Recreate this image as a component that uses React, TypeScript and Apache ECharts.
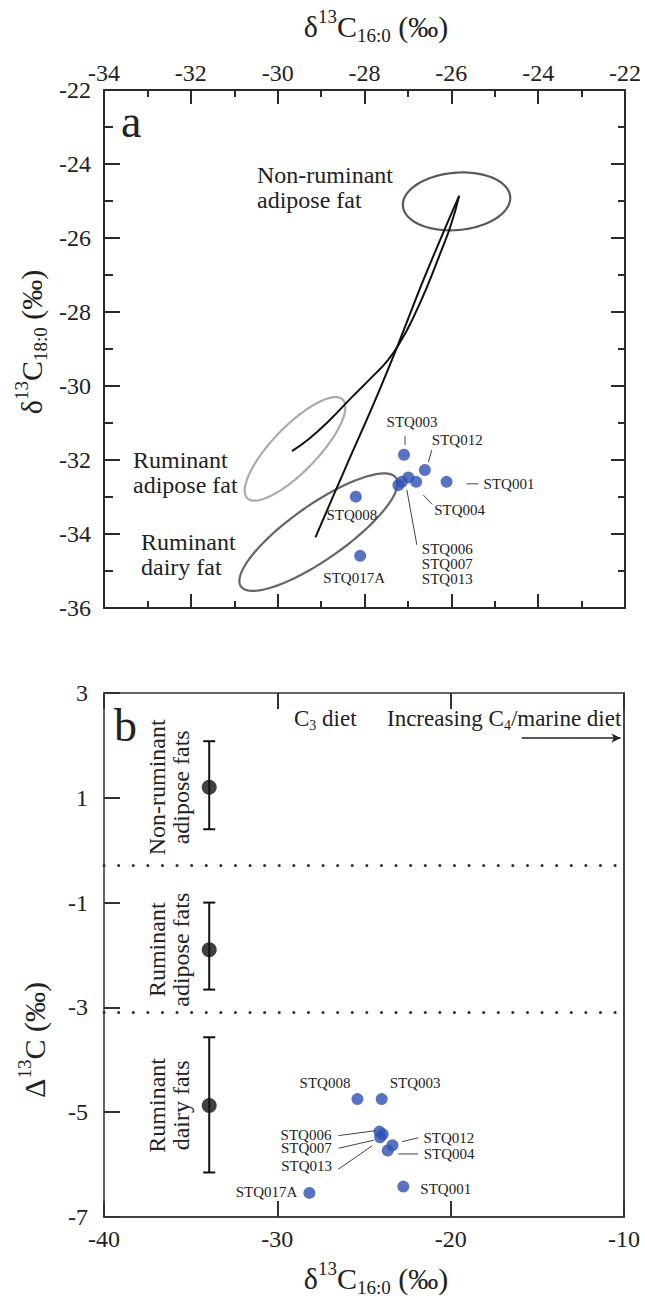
import React, { useEffect, useRef } from 'react';
import * as echarts from 'echarts';

const SERIF = "'Liberation Serif', 'Times New Roman', serif";

// ---------- Panel a: δ13C16:0 vs δ13C18:0 ----------
const sampleIds = ['STQ001', 'STQ003', 'STQ004', 'STQ006', 'STQ007', 'STQ008', 'STQ012', 'STQ013', 'STQ017A'];
const d16TopValues = [-26.11, -27.09, -26.81, -26.99, -27.14, -28.2, -26.61, -27.22, -28.1];
const d18TopValues = [-32.59, -31.86, -32.59, -32.47, -32.59, -32.99, -32.27, -32.68, -34.59];

// reference ellipses (center, semi-axes in x-units, tilt in degrees)
const ellipseNames = ['Non-ruminant adipose fat', 'Ruminant adipose fat', 'Ruminant dairy fat'];
const ellipseCenterX = [-25.88, -29.6, -29.06];
const ellipseCenterY = [-25.01, -31.7, -33.95];
const ellipseSemiMajor = [1.24, 1.58, 2.18];
const ellipseSemiMinor = [0.66, 0.52, 0.63];
const ellipseTilt = [5, 46, 35];

// mixing curves
const mixAdiposeX = [-25.82, -26.01, -26.28, -26.56, -26.88, -27.16, -27.46, -27.83, -28.29, -28.8, -29.26, -29.67];
const mixAdiposeY = [-24.86, -25.65, -26.49, -27.32, -28.16, -28.78, -29.3, -29.76, -30.3, -30.92, -31.41, -31.76];
const mixDairyX = [-25.82, -26.13, -26.68, -27.24, -27.8, -28.43, -29.13];
const mixDairyY = [-24.86, -25.7, -27.24, -28.92, -30.51, -32.19, -34.09];

// ---------- Panel b: δ13C16:0 vs Δ13C ----------
const d16BottomValues = [-22.73, -23.98, -23.63, -24.11, -23.92, -25.38, -23.36, -24.07, -28.15];
const bigDeltaValues = [-6.42, -4.75, -5.73, -5.37, -5.42, -4.75, -5.63, -5.48, -6.54];

const groupNames = ['Non-ruminant\nadipose fats', 'Ruminant\nadipose fats', 'Ruminant\ndairy fats'];
const groupX = [-33.93, -33.93, -33.93];
const groupMean = [1.2, -1.9, -4.87];
const groupLow = [0.4, -2.66, -6.15];
const groupHigh = [2.08, -1.0, -3.57];
const separatorLevels = [-0.28, -3.1];

// axis ranges [min, max, interval]
const topXRange = [-34, -22, 2];
const topYRange = [-36, -22, 2];
const botXRange = [-40, -10, 10];
const botYRange = [-7, 3, 2];

// ---------- styles / layout (not data) ----------
const BLUE = '#3050b4';
const INK = '#222';
const ellipseColors = ['#595959', '#ababab', '#666666'];

type LabelCfg = { hidden?: boolean; text?: string; dx?: number; dy?: number; align?: string; leader?: number[]; lineHeight?: number };

const topLabelLayout: Record<string, LabelCfg> = {
  STQ001: { dx: 37, dy: 2, align: 'left', leader: [20, 2, 32, 2] },
  STQ003: { dx: 8, dy: -33, align: 'center', leader: [1, -19, 1, -10] },
  STQ004: { dx: 18, dy: 28, align: 'left', leader: [7, 13, 16, 22.5] },
  STQ006: { hidden: true },
  STQ007: { text: 'STQ006\nSTQ007\nSTQ013', dx: 20, dy: 82, align: 'left', lineHeight: 15, leader: [5, 8, 15, 63] },
  STQ008: { dx: -4, dy: 18, align: 'center' },
  STQ012: { dx: 7, dy: -30, align: 'left', leader: [7, -20, 3.5, -8] },
  STQ013: { hidden: true },
  STQ017A: { dx: -6, dy: 22, align: 'center' },
};

const bottomLabelLayout: Record<string, LabelCfg> = {
  STQ001: { dx: 17, dy: 2, align: 'left' },
  STQ003: { dx: 8, dy: -16, align: 'left' },
  STQ004: { dx: 36, dy: 4, align: 'left', leader: [10.5, 3.5, 30.5, 3.5] },
  STQ006: { dx: -48, dy: 3, align: 'right', leader: [-41, 4, -3, -1] },
  STQ007: { dx: -51, dy: 14, align: 'right', leader: [-44, 14, -9, 6] },
  STQ008: { dx: -7, dy: -16, align: 'right' },
  STQ012: { dx: 31, dy: -7, align: 'left', leader: [9.5, -3.5, 26, -7.5] },
  STQ013: { dx: -48, dy: 29, align: 'right', leader: [-42, 32, -8, 8.5] },
  STQ017A: { dx: -12, dy: -1, align: 'right' },
};

const richTitle = (size: number) => ({
  m: { fontSize: size, fontFamily: SERIF, lineHeight: size + 8, fill: INK, color: INK },
  sup: { fontSize: Math.round(size * 0.62), fontFamily: SERIF, verticalAlign: 'top', fill: INK, color: INK },
  sub: { fontSize: Math.round(size * 0.62), fontFamily: SERIF, verticalAlign: 'bottom', fill: INK, color: INK },
});

const makeLabelRenderer = (layout: Record<string, LabelCfg>, fontSize: number) => (params: any, api: any) => {
  const id = sampleIds[params.dataIndex];
  const cfg = layout[id];
  if (!cfg || cfg.hidden) return { type: 'group', children: [] };
  const p = api.coord([api.value(0), api.value(1)]);
  const children: any[] = [
    {
      type: 'text',
      x: p[0] + (cfg.dx || 0),
      y: p[1] + (cfg.dy || 0),
      style: {
        text: cfg.text || id,
        fill: INK,
        font: `${fontSize}px ${SERIF}`,
        align: cfg.align,
        textAlign: cfg.align,
        verticalAlign: 'middle',
        textVerticalAlign: 'middle',
        lineHeight: cfg.lineHeight || fontSize,
      },
    },
  ];
  if (cfg.leader) {
    const l = cfg.leader;
    children.push({
      type: 'line',
      shape: { x1: p[0] + l[0], y1: p[1] + l[1], x2: p[0] + l[2], y2: p[1] + l[3] },
      style: { stroke: '#444', lineWidth: 1 },
    });
  }
  return { type: 'group', children };
};

const axisLine = (c: string) => ({ show: true, onZero: false, lineStyle: { color: c, width: 2 } });
const tickLabel = (show: boolean, margin: number) => ({
  show,
  fontSize: 24,
  fontFamily: SERIF,
  color: INK,
  margin,
});

const textStyle = (extra: any) => ({
  fill: INK,
  align: 'left',
  verticalAlign: 'middle',
  textAlign: 'left',
  textVerticalAlign: 'middle',
  ...extra,
});

export default function App() {
  const ref = useRef<HTMLDivElement>(null);

  useEffect(() => {
    if (!ref.current) return;
    const chart = echarts.init(ref.current, undefined, { renderer: 'svg' });

    const topTick = { show: true, inside: true, length: 14, lineStyle: { color: '#2a2a2a', width: 2 } };
    const topMinor = { show: true, splitNumber: 2, length: 7, lineStyle: { color: '#2a2a2a', width: 2 } };
    const botTick = { show: true, inside: true, length: 16, lineStyle: { color: '#333', width: 2 } };

    const option: any = {
      animation: false,
      backgroundColor: '#fff',
      grid: [
        { left: 104, top: 90, width: 521, height: 518 },
        { left: 104, top: 693, width: 520, height: 524 },
      ],
      xAxis: [
        {
          gridIndex: 0, type: 'value', position: 'top', min: topXRange[0], max: topXRange[1], interval: topXRange[2],
          axisLine: axisLine('#2a2a2a'), axisTick: topTick, minorTick: topMinor, axisLabel: tickLabel(true, 5), splitLine: { show: false },
        },
        {
          gridIndex: 0, type: 'value', position: 'bottom', min: topXRange[0], max: topXRange[1], interval: topXRange[2],
          axisLine: axisLine('#2a2a2a'), axisTick: topTick, minorTick: topMinor, axisLabel: tickLabel(false, 5), splitLine: { show: false },
        },
        {
          gridIndex: 1, type: 'value', position: 'bottom', min: botXRange[0], max: botXRange[1], interval: botXRange[2],
          axisLine: axisLine('#444'), axisTick: botTick, axisLabel: tickLabel(true, 10), splitLine: { show: false },
        },
        {
          gridIndex: 1, type: 'value', position: 'top', min: botXRange[0], max: botXRange[1], interval: botXRange[2],
          axisLine: axisLine('#666'), axisTick: botTick, axisLabel: tickLabel(false, 5), splitLine: { show: false },
        },
      ],
      yAxis: [
        {
          gridIndex: 0, type: 'value', position: 'left', min: topYRange[0], max: topYRange[1], interval: topYRange[2],
          axisLine: axisLine('#2a2a2a'), axisTick: { ...topTick, length: 16 }, minorTick: { ...topMinor, length: 9 },
          axisLabel: tickLabel(true, 13), splitLine: { show: false },
        },
        {
          gridIndex: 0, type: 'value', position: 'right', min: topYRange[0], max: topYRange[1], interval: topYRange[2],
          axisLine: axisLine('#2a2a2a'), axisTick: topTick, minorTick: topMinor, axisLabel: tickLabel(false, 5), splitLine: { show: false },
        },
        {
          gridIndex: 1, type: 'value', position: 'left', min: botYRange[0], max: botYRange[1], interval: botYRange[2],
          axisLine: axisLine('#666'), axisTick: botTick, axisLabel: tickLabel(true, 16), splitLine: { show: false },
        },
        {
          gridIndex: 1, type: 'value', position: 'right', min: botYRange[0], max: botYRange[1], interval: botYRange[2],
          axisLine: axisLine('#444'), axisTick: { show: false }, axisLabel: { show: false }, splitLine: { show: false },
        },
      ],
      series: [
        // ellipses
        {
          type: 'custom',
          name: 'ellipses',
          xAxisIndex: 0,
          yAxisIndex: 0,
          silent: true,
          z: 2,
          data: ellipseNames.map((_, i) => [ellipseCenterX[i], ellipseCenterY[i], ellipseSemiMajor[i], ellipseSemiMinor[i], ellipseTilt[i]]),
          renderItem: (params: any, api: any) => {
            const c = api.coord([api.value(0), api.value(1)]);
            const unit = api.size([1, 0])[0];
            const a = api.value(2) * unit;
            const b = api.value(3) * unit;
            const th = (api.value(4) * Math.PI) / 180;
            const pts: number[][] = [];
            for (let k = 0; k < 120; k++) {
              const t = (k / 120) * Math.PI * 2;
              const ex = a * Math.cos(t);
              const ey = b * Math.sin(t);
              pts.push([c[0] + ex * Math.cos(th) - ey * Math.sin(th), c[1] - (ex * Math.sin(th) + ey * Math.cos(th))]);
            }
            return {
              type: 'polygon',
              shape: { points: pts },
              style: { fill: 'none', stroke: ellipseColors[params.dataIndex], lineWidth: 2.2 },
            };
          },
        },
        {
          type: 'line',
          name: 'mixing adipose',
          xAxisIndex: 0,
          yAxisIndex: 0,
          data: mixAdiposeX.map((x, i) => [x, mixAdiposeY[i]]),
          symbol: 'none',
          smooth: 0.5,
          lineStyle: { color: '#111', width: 2 },
          z: 3,
        },
        {
          type: 'line',
          name: 'mixing dairy',
          xAxisIndex: 0,
          yAxisIndex: 0,
          data: mixDairyX.map((x, i) => [x, mixDairyY[i]]),
          symbol: 'none',
          smooth: 0.3,
          lineStyle: { color: '#111', width: 2 },
          z: 3,
        },
        {
          type: 'scatter',
          name: 'samples a',
          xAxisIndex: 0,
          yAxisIndex: 0,
          data: sampleIds.map((_, i) => [d16TopValues[i], d18TopValues[i]]),
          symbolSize: 12,
          itemStyle: { color: BLUE },
          z: 5,
        },
        {
          type: 'custom',
          name: 'labels a',
          xAxisIndex: 0,
          yAxisIndex: 0,
          silent: true,
          z: 6,
          data: sampleIds.map((_, i) => [d16TopValues[i], d18TopValues[i]]),
          renderItem: makeLabelRenderer(topLabelLayout, 15),
        },
        // panel b
        {
          type: 'custom',
          name: 'error bars',
          xAxisIndex: 2,
          yAxisIndex: 2,
          silent: true,
          z: 3,
          data: groupNames.map((_, i) => [groupX[i], groupMean[i], groupLow[i], groupHigh[i]]),
          renderItem: (params: any, api: any) => {
            const hi = api.coord([api.value(0), api.value(3)]);
            const lo = api.coord([api.value(0), api.value(2)]);
            const w = 6;
            const st = { stroke: '#111', lineWidth: 2 };
            return {
              type: 'group',
              children: [
                { type: 'line', shape: { x1: hi[0], y1: hi[1], x2: lo[0], y2: lo[1] }, style: st },
                { type: 'line', shape: { x1: hi[0] - w, y1: hi[1], x2: hi[0] + w, y2: hi[1] }, style: st },
                { type: 'line', shape: { x1: lo[0] - w, y1: lo[1], x2: lo[0] + w, y2: lo[1] }, style: st },
              ],
            };
          },
        },
        {
          type: 'scatter',
          name: 'group means',
          xAxisIndex: 2,
          yAxisIndex: 2,
          data: groupNames.map((_, i) => [groupX[i], groupMean[i]]),
          symbolSize: 15,
          itemStyle: { color: '#111' },
          z: 4,
          markLine: {
            silent: true,
            symbol: 'none',
            label: { show: false },
            lineStyle: { color: '#333', width: 3, type: [0.1, 14.5], cap: 'round' },
            data: separatorLevels.map((v) => ({ yAxis: v })),
          },
        },
        {
          type: 'custom',
          name: 'group labels',
          xAxisIndex: 2,
          yAxisIndex: 2,
          silent: true,
          z: 4,
          data: groupNames.map((_, i) => [groupX[i], groupMean[i]]),
          renderItem: (params: any, api: any) => {
            const p = api.coord([api.value(0), api.value(1)]);
            return {
              type: 'text',
              x: p[0] - 40,
              y: p[1],
              rotation: Math.PI / 2,
              style: {
                text: groupNames[params.dataIndex],
                fill: INK,
                font: `24px ${SERIF}`,
                align: 'center',
                textAlign: 'center',
                verticalAlign: 'middle',
                textVerticalAlign: 'middle',
                lineHeight: 24,
              },
            };
          },
        },
        {
          type: 'scatter',
          name: 'samples b',
          xAxisIndex: 2,
          yAxisIndex: 2,
          data: sampleIds.map((_, i) => [d16BottomValues[i], bigDeltaValues[i]]),
          symbolSize: 12,
          itemStyle: { color: BLUE },
          z: 5,
          markLine: {
            silent: true,
            symbol: ['none', 'arrow'],
            symbolSize: [7, 9],
            label: { show: false },
            lineStyle: { color: '#222', width: 1.5, type: 'solid' },
            data: [[{ coord: [-15.9, 2.14] }, { coord: [-10.2, 2.14] }]],
          },
        },
        {
          type: 'custom',
          name: 'labels b',
          xAxisIndex: 2,
          yAxisIndex: 2,
          silent: true,
          z: 6,
          data: sampleIds.map((_, i) => [d16BottomValues[i], bigDeltaValues[i]]),
          renderItem: makeLabelRenderer(bottomLabelLayout, 15),
        },
      ],
      graphic: [
        // axis titles
        {
          type: 'text', x: 376, y: 26, silent: true,
          style: { text: '{m|δ}{sup|13}{m|C}{sub|16:0}{m| (‰)}', rich: richTitle(30), align: 'center', verticalAlign: 'middle', textAlign: 'center', textVerticalAlign: 'middle' },
        },
        {
          type: 'text', x: 31, y: 342, rotation: Math.PI / 2, silent: true,
          style: { text: '{m|δ}{sup|13}{m|C}{sub|18:0}{m| (‰)}', rich: richTitle(30), align: 'center', verticalAlign: 'middle', textAlign: 'center', textVerticalAlign: 'middle' },
        },
        {
          type: 'text', x: 376, y: 1278, silent: true,
          style: { text: '{m|δ}{sup|13}{m|C}{sub|16:0}{m| (‰)}', rich: richTitle(30), align: 'center', verticalAlign: 'middle', textAlign: 'center', textVerticalAlign: 'middle' },
        },
        {
          type: 'text', x: 34, y: 1040, rotation: Math.PI / 2, silent: true,
          style: { text: '{m|Δ}{sup|13}{m|C (‰)}', rich: richTitle(30), align: 'center', verticalAlign: 'middle', textAlign: 'center', textVerticalAlign: 'middle' },
        },
        // panel letters
        { type: 'text', x: 121, y: 144, silent: true, style: textStyle({ text: 'a', font: `46px ${SERIF}`, verticalAlign: 'bottom', textVerticalAlign: 'bottom' }) },
        { type: 'text', x: 114, y: 748, silent: true, style: textStyle({ text: 'b', font: `46px ${SERIF}`, verticalAlign: 'bottom', textVerticalAlign: 'bottom' }) },
        // ellipse annotations
        { type: 'text', x: 257, y: 187, silent: true, style: textStyle({ text: 'Non-ruminant\nadipose fat', font: `24px ${SERIF}`, lineHeight: 25 }) },
        { type: 'text', x: 133, y: 472, silent: true, style: textStyle({ text: 'Ruminant\nadipose fat', font: `24px ${SERIF}`, lineHeight: 25 }) },
        { type: 'text', x: 141, y: 554, silent: true, style: textStyle({ text: 'Ruminant\ndairy fat', font: `24px ${SERIF}`, lineHeight: 25 }) },
        // diet annotations
        {
          type: 'text', x: 294, y: 718, silent: true,
          style: textStyle({
            text: '{m|C}{sub|3}{m| diet}',
            rich: { m: { fontSize: 23, fontFamily: SERIF, lineHeight: 28, fill: INK, color: INK }, sub: { fontSize: 14, fontFamily: SERIF, verticalAlign: 'bottom', fill: INK, color: INK } },
          }),
        },
        {
          type: 'text', x: 387, y: 718, silent: true,
          style: textStyle({
            text: '{m|Increasing C}{sub|4}{m|/marine diet}',
            rich: { m: { fontSize: 23, fontFamily: SERIF, lineHeight: 28, fill: INK, color: INK }, sub: { fontSize: 14, fontFamily: SERIF, verticalAlign: 'bottom', fill: INK, color: INK } },
          }),
        },
      ],
    };

    chart.setOption(option);
    return () => chart.dispose();
  }, []);

  return <div ref={ref} style={{ position: 'absolute', left: 0, top: 0, width: 645, height: 1300, background: '#fff' }} />;
}
